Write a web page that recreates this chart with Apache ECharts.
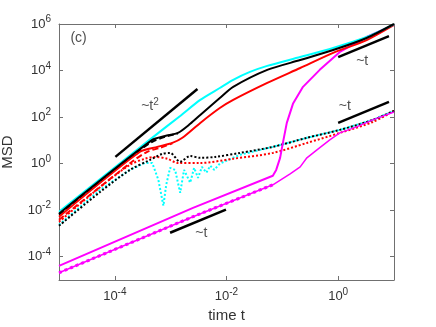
<!DOCTYPE html>
<html>
<head>
<meta charset="utf-8">
<script src="https://cdn.jsdelivr.net/npm/echarts@6/dist/echarts.min.js"></script>
<style>
  html, body { margin: 0; padding: 0; background: #fff; }
  #chart { width: 436px; height: 327px; }
</style>
</head>
<body>
<div id="chart"></div>
<script>
// points are [log10 t, log10 MSD]
const cyanSolid = [[-5, -2.07], [-3.31, 1.15], [-2.83, 2.05], [-2.47, 2.74], [-2.12, 3.25], [-1.88, 3.6], [-1.58, 3.94], [-1.27, 4.2], [-0.68, 4.58], [-0.09, 4.97], [0.51, 5.44], [1, 5.98]];
const blackSolid = [[-5, -2.15], [-3.33, 1.02], [-3.1, 1.19], [-2.87, 1.32], [-2.65, 1.71], [-2.47, 2.09], [-2.12, 2.82], [-1.88, 3.3], [-1.27, 4.03], [-0.68, 4.45], [-0.09, 4.88], [0.51, 5.4], [1, 6]];
const redSolid = [[-5, -2.28], [-3.55, 0.51], [-3.24, 0.72], [-2.97, 0.89], [-2.79, 1.11], [-2.47, 1.75], [-2.12, 2.39], [-1.88, 2.74], [-1.27, 3.47], [-0.68, 4.11], [-0.09, 4.76], [0.51, 5.31], [1, 5.96]];
const blackDashed = [[-5, -2.19], [-3.55, 0.59], [-3.33, 0.94], [-3.1, 1.15], [-2.87, 1.3]];
const redDashed = [[-5, -2.41], [-3.72, 0.03], [-3.42, 0.51], [-3.19, 0.68], [-2.97, 0.87]];
const cyanDotted = [[-5, -2.63], [-4.26, -1.12], [-3.73, -0.27], [-3.46, 0.03], [-3.33, 0.03], [-3.22, -0.7], [-3.13, -1.81], [-3.08, -0.91], [-3.01, -0.18], [-2.92, -0.27], [-2.83, -1.25], [-2.76, -0.27], [-2.65, -0.82], [-2.58, -0.18], [-2.51, -0.61], [-2.44, -0.14], [-2.36, -0.39], [-2.29, -0.09], [-2.22, -0.27], [-2.12, 0], [-1.76, 0.38], [-1.17, 0.72], [-0.56, 1.11], [0.03, 1.45], [0.62, 1.88], [1, 2.27]];
const blackDotted = [[-5, -2.67], [-4.26, -1.21], [-3.73, -0.27], [-3.37, 0.16], [-3.15, 0.42], [-3.01, 0.46], [-2.83, 0.08], [-2.65, 0.33], [-2.47, 0.25], [-2.2, 0.29], [-1.76, 0.46], [-1.17, 0.72], [-0.56, 1.11], [0.03, 1.45], [0.62, 1.88], [1, 2.27]];
const redDotted = [[-5, -2.5], [-4.26, -1.0], [-3.73, -0.05], [-3.46, 0.21], [-3.28, 0.29], [-3.06, 0.21], [-2.87, 0.03], [-2.47, 0.03], [-1.88, 0.21], [-1.17, 0.46], [-0.56, 0.89], [0.03, 1.32], [0.62, 1.79], [1, 2.27]];
const magentaSolid = [[-5, -4.39], [-2.6, -1.9], [-1.17, -0.52], [-1.11, -0.27], [-1.04, 0.25], [-0.99, 0.89], [-0.92, 1.75], [-0.81, 2.57], [-0.63, 3.3], [-0.33, 4.03], [0.03, 4.8], [0.51, 5.44], [1, 5.96]];
const magentaLower = [[-5, -4.69], [-2.6, -2.28], [-1.17, -0.91], [-0.86, -0.44], [-0.68, -0.14], [-0.56, 0.25], [-0.38, 0.59], [-0.15, 1.02], [0.03, 1.32], [0.33, 1.58], [0.62, 1.88], [1, 2.22]];
const magentaLowerEarly = [[-5, -4.69], [-2.6, -2.28], [-1.17, -0.91]];

// guide lines
const guideT2 = [[-3.99, 0.29], [-2.52, 3.21]];
const guideTopRight = [[0, 4.58], [0.91, 5.48]];
const guideMidRight = [[0, 1.75], [0.91, 2.65]];
const guideBottom = [[-3.01, -2.97], [-2.01, -1.98]];

const xTicks = [-4, -2, 0];
const yTicks = [-4, -2, 0, 2, 4, 6];

const notes = [
  { value: [-4.65, 5.4], text: '(c)' },
  { value: [-3.37, 2.45], text: '{a|~t}{s|2}' },
  { value: [0.43, 4.4], text: '~t' },
  { value: [0.12, 2.45], text: '~t' },
  { value: [-2.45, -2.97], text: '~t' }
];

const chart = echarts.init(document.getElementById('chart'));

function line(data, color, dash, width, smooth) {
  return {
    type: 'line',
    data: data,
    symbol: 'none',
    smooth: smooth || false,
    silent: true,
    lineStyle: { color: color, width: width, type: dash },
    itemStyle: { color: color }
  };
}

const tickLabel = (list) => (v) => list.includes(v) ? '{a|10}{b|' + v + '}' : '';
const richTick = {
  a: { fontSize: 13, color: '#333', fontFamily: 'Liberation Sans' },
  b: { fontSize: 10, color: '#333', fontFamily: 'Liberation Sans', padding: [0, 0, 9, 0] }
};
const axisGray = '#707070';

const baseX = {
  type: 'value', min: -5, max: 1, interval: 1,
  axisLine: { show: true, onZero: false, lineStyle: { color: axisGray, width: 1 } },
  axisTick: { show: true, inside: true, length: 4, customValues: xTicks, lineStyle: { color: axisGray } },
  splitLine: { show: false }
};
const baseY = {
  type: 'value', min: -5, max: 6, interval: 1,
  axisLine: { show: true, onZero: false, lineStyle: { color: axisGray, width: 1 } },
  axisTick: { show: true, inside: true, length: 4, customValues: yTicks, lineStyle: { color: axisGray } },
  splitLine: { show: false }
};

const option = {
  animation: false,
  backgroundColor: '#fff',
  grid: { left: 59, right: 42, top: 24, bottom: 47, containLabel: false, outerBoundsMode: 'none' },
  xAxis: [
    Object.assign({}, baseX, {
      position: 'bottom',
      name: 'time t', nameLocation: 'middle', nameGap: 28,
      nameTextStyle: { fontSize: 15, color: '#333', fontFamily: 'Liberation Sans' },
      axisLabel: { customValues: xTicks, margin: 7, formatter: tickLabel(xTicks), rich: richTick }
    }),
    Object.assign({}, baseX, { position: 'top', axisLabel: { show: false } })
  ],
  yAxis: [
    Object.assign({}, baseY, {
      position: 'left',
      name: 'MSD', nameLocation: 'middle', nameGap: 44, nameRotate: 90,
      nameTextStyle: { fontSize: 15, color: '#333', fontFamily: 'Liberation Sans' },
      axisLabel: { customValues: yTicks, margin: 8, formatter: tickLabel(yTicks), rich: richTick }
    }),
    Object.assign({}, baseY, { position: 'right', axisLabel: { show: false } })
  ],
  series: [
    line(cyanDotted, '#00ffff', [2, 2], 2, false),
    line(redDotted, '#ff0000', [2, 2], 2, 0.3),
    line(blackDotted, '#000000', [2, 2], 2, 0.3),
    line(magentaLower, '#ff00ff', 'solid', 1.5, false),
    line(magentaLowerEarly, '#ff00ff', [3, 3], 3, false),
    line(magentaSolid, '#ff00ff', 'solid', 2, false),
    line(redDashed, '#ff0000', [6, 3], 2, 0.3),
    line(blackDashed, '#000000', [6, 3], 2, 0.3),
    line(redSolid, '#ff0000', 'solid', 2, 0.25),
    line(cyanSolid, '#00ffff', 'solid', 2, 0.25),
    line(blackSolid, '#000000', 'solid', 2, 0.25),
    line(guideT2, '#000000', 'solid', 2.5),
    line(guideTopRight, '#000000', 'solid', 2.5),
    line(guideMidRight, '#000000', 'solid', 2.5),
    line(guideBottom, '#000000', 'solid', 2.5),
    {
      type: 'scatter',
      symbolSize: 0,
      silent: true,
      data: notes.map(n => ({ value: n.value, text: n.text })),
      label: {
        show: true,
        position: 'inside',
        formatter: p => p.data.text,
        fontSize: 14,
        color: '#222',
        fontFamily: 'Liberation Sans',
        rich: {
          a: { fontSize: 14, color: '#222', fontFamily: 'Liberation Sans' },
          s: { fontSize: 10, color: '#222', fontFamily: 'Liberation Sans', padding: [0, 0, 9, 0] }
        }
      }
    }
  ]
};

chart.setOption(option);
</script>
</body>
</html>
